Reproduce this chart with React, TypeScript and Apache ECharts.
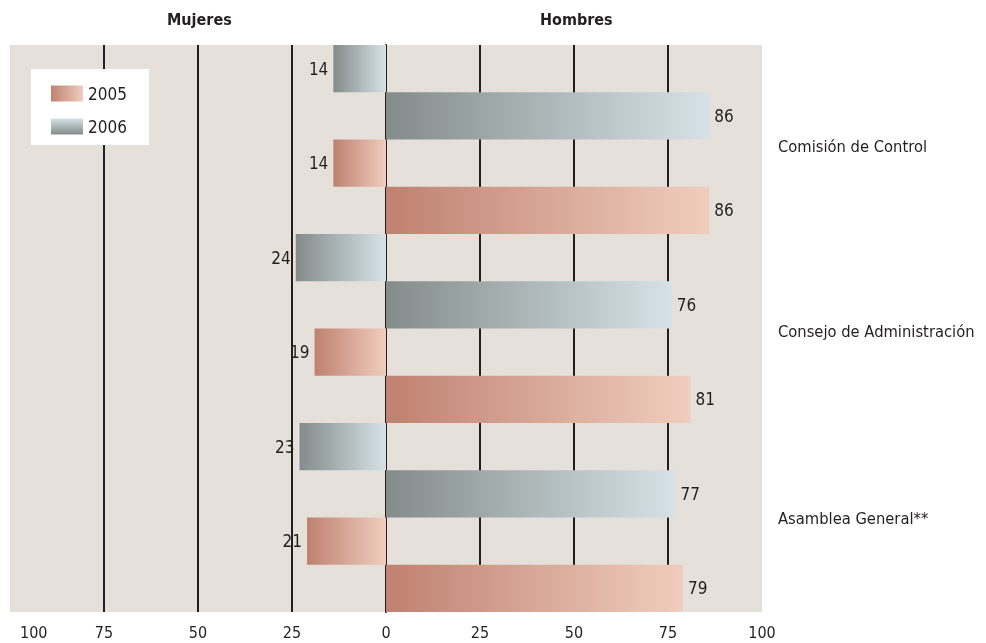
import React, { useEffect, useRef } from "react";
import * as echarts from "echarts";

const organs = ["Comisión de Control", "Consejo de Administración", "Asamblea General**"];
const women2006 = [14, 24, 23];
const men2006 = [86, 76, 77];
const women2005 = [14, 19, 21];
const men2005 = [86, 81, 79];
const years = ["2005", "2006"];
const tickValues = [-100, -75, -50, -25, 0, 25, 50, 75, 100];

const FONT = "'Liberation Sans Narrow', 'DejaVu Sans Condensed', 'Roboto Condensed', sans-serif";
const TXT = "#231f20";

const grad2005 = () =>
  new echarts.graphic.LinearGradient(0, 0, 1, 0, [
    { offset: 0, color: "#bf8170" },
    { offset: 1, color: "#f0cdbe" },
  ]);
const grad2006 = () =>
  new echarts.graphic.LinearGradient(0, 0, 1, 0, [
    { offset: 0, color: "#838c8a" },
    { offset: 1, color: "#d6e2e7" },
  ]);
const grad2006v = () =>
  new echarts.graphic.LinearGradient(0, 0, 0, 1, [
    { offset: 0, color: "#d6e2e7" },
    { offset: 1, color: "#838c8a" },
  ]);

export default function App() {
  const ref = useRef<HTMLDivElement>(null);
  useEffect(() => {
    if (!ref.current) return;
    const chart = echarts.init(ref.current, null, { renderer: "svg" });

    // rows from top to bottom: W2006, M2006, W2005, M2005 per organ
    const rows: string[] = [];
    const d2005: any[] = [];
    const d2006: any[] = [];
    const item = (v: number) => ({
      value: v,
      label: { position: v < 0 ? "left" : "right" },
    });
    organs.forEach((o, i) => {
      rows.push(o + " M2006", o + " H2006", o + " M2005", o + " H2005");
      d2006.push(item(-women2006[i]), item(men2006[i]), "-", "-");
      d2005.push("-", "-", item(-women2005[i]), item(men2005[i]));
    });

    const labelCommon = {
      show: true,
      formatter: (p: any) => String(Math.abs(p.value)),
      color: TXT,
      fontFamily: FONT,
      fontSize: 17,
      distance: 5,
    };

    chart.setOption({
      animation: false,
      grid: {
        left: 10,
        right: 224,
        top: 45,
        bottom: 31,
        show: true,
        backgroundColor: "#e5e1da",
        borderWidth: 0,
      },
      legend: {
        orient: "vertical",
        left: 31,
        top: 69,
        backgroundColor: "#ffffff",
        padding: [16, 22, 10, 20],
        itemWidth: 32,
        itemHeight: 16,
        itemGap: 16,
        icon: "rect",
        textStyle: { fontFamily: FONT, fontSize: 17, color: TXT },
        data: [
          { name: "2005", itemStyle: { color: grad2005() } },
          { name: "2006", itemStyle: { color: grad2006v() } },
        ],
      },
      xAxis: {
        type: "value",
        min: -100,
        max: 100,
        interval: 25,
        axisLine: { show: false },
        axisTick: { show: false },
        splitLine: {
          show: true,
          showMinLine: false,
          showMaxLine: false,
          lineStyle: { color: "#231f20", width: 2 },
        },
        axisLabel: {
          margin: 12,
          color: TXT,
          fontFamily: FONT,
          fontSize: 16,
          formatter: (v: number) =>
            v === tickValues[0] ? "{first|" + Math.abs(v) + "}" : String(Math.abs(v)),
          rich: {
            first: { fontFamily: FONT, fontSize: 16, color: TXT, padding: [0, 0, 0, 10] },
          },
          alignMinLabel: "left",
        },
      },
      yAxis: {
        type: "category",
        inverse: true,
        data: rows,
        axisLine: { show: true, onZero: true, lineStyle: { color: "#231f20", width: 2 } },
        axisTick: { show: false },
        axisLabel: { show: false },
        splitLine: { show: false },
      },
      series: [
        {
          name: years[0],
          type: "bar",
          data: d2005,
          barCategoryGap: "0%",
          barGap: "-100%",
          itemStyle: { color: grad2005() },
          label: labelCommon,
          z: 3,
        },
        {
          name: years[1],
          type: "bar",
          data: d2006,
          barCategoryGap: "0%",
          barGap: "-100%",
          itemStyle: { color: grad2006() },
          label: labelCommon,
          z: 3,
        },
      ],
      graphic: [
        {
          type: "text",
          left: 197 - 30,
          top: 11,
          style: { text: "Mujeres", fontFamily: FONT, fontSize: 16, fontWeight: "bold", fill: TXT },
        },
        {
          type: "text",
          left: 574 - 34,
          top: 11,
          style: { text: "Hombres", fontFamily: FONT, fontSize: 16, fontWeight: "bold", fill: TXT },
        },
        ...organs.map((o, i) => ({
          type: "text",
          left: 778,
          top: [138, 323, 510][i],
          style: { text: o, fontFamily: FONT, fontSize: 16.4, fill: TXT },
        })),
      ],
    });
    return () => chart.dispose();
  }, []);
  return (
    <div
      ref={ref}
      style={{ position: "fixed", left: 0, top: 0, width: 986, height: 643 }}
    />
  );
}
